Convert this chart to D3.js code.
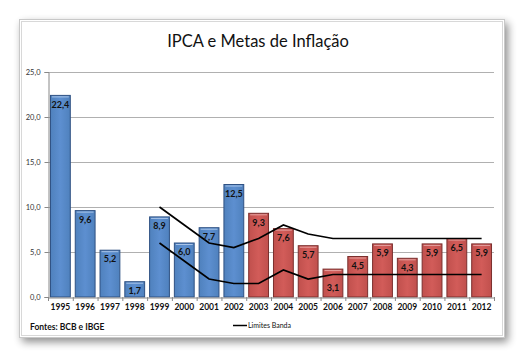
<!DOCTYPE html>
<html><head><meta charset="utf-8">
<script src="https://cdn.jsdelivr.net/npm/d3@7"></script>
<style>html,body{margin:0;padding:0;background:#fff;}svg{display:block;}</style>
</head><body>
<svg id="c" width="525" height="358"></svg>
<script>
const years = ["1995","1996","1997","1998","1999","2000","2001","2002","2003","2004","2005","2006","2007","2008","2009","2010","2011","2012"];
const ipca = [22.4,9.6,5.2,1.7,8.9,6.0,7.7,12.5,9.3,7.6,5.7,3.1,4.5,5.9,4.3,5.9,6.5,5.9];
const bandYears = ["1999","2000","2001","2002","2003","2004","2005","2006","2007","2008","2009","2010","2011","2012"];
const bandUpper = [10,8,6,5.5,6.5,8,7,6.5,6.5,6.5,6.5,6.5,6.5,6.5];
const bandLower = [6,4,2,1.5,1.5,3,2,2.5,2.5,2.5,2.5,2.5,2.5,2.5];
const yTicks = [0,5,10,15,20,25];
const blueYears = ["1995","1996","1997","1998","1999","2000","2001","2002"];
const title = "IPCA e Metas de Inflação";
const source = "Fontes: BCB e IBGE";
const legendLabel = "Limites Banda";

const FONT = "Lato, 'Open Sans', sans-serif";
const svg = d3.select("#c");
const defs = svg.append("defs");
const f = defs.append("filter").attr("id","sh").attr("x","-10%").attr("y","-10%").attr("width","125%").attr("height","125%");
f.append("feGaussianBlur").attr("in","SourceAlpha").attr("stdDeviation",4);
f.append("feOffset").attr("dx",3).attr("dy",4).attr("result","b");
f.append("feComponentTransfer").append("feFuncA").attr("type","linear").attr("slope",0.45);
const m = f.append("feMerge"); m.append("feMergeNode"); m.append("feMergeNode").attr("in","SourceGraphic");

function grad(id, light, mid){
  const g = defs.append("linearGradient").attr("id",id).attr("x1","0").attr("x2","1").attr("y1","0").attr("y2","0");
  g.append("stop").attr("offset","0%").attr("stop-color",mid);
  g.append("stop").attr("offset","50%").attr("stop-color",light);
  g.append("stop").attr("offset","100%").attr("stop-color",mid);
}
grad("gb","#5d8fd0","#4f81bd");
grad("gr","#d25c59","#c0504d");

// frame
svg.append("rect").attr("x",19.5).attr("y",19.5).attr("width",485).attr("height",318)
  .attr("fill","#fff").attr("stroke","#c8c8c8").attr("stroke-width",1).attr("filter","url(#sh)");
svg.append("rect").attr("x",21.5).attr("y",21.5).attr("width",481).attr("height",314)
  .attr("fill","none").attr("stroke","#d8d8d8").attr("stroke-width",1);

const L=48, R=494, T=72, B=297;
const x = d3.scaleBand().domain(years).range([L,R]).paddingInner(0.2).paddingOuter(0.1);
const xc = d3.scaleBand().domain(years).range([L,R]);
const y = d3.scaleLinear().domain([0,25]).range([B,T]);

svg.append("text").attr("x",258).attr("y",47).attr("text-anchor","middle")
  .attr("font-family",FONT).attr("font-size",16.5).attr("fill","#111").text(title);

// gridlines
svg.append("g").selectAll("line").data(yTicks.filter(d=>d>0)).join("line")
  .attr("x1",L).attr("x2",R).attr("y1",d=>Math.round(y(d))+0.5).attr("y2",d=>Math.round(y(d))+0.5)
  .attr("stroke","#b0b0b0").attr("stroke-width",1);

// y axis
const ya = svg.append("g").attr("transform",`translate(${L+0.5},0)`)
  .call(d3.axisLeft(y).tickValues(yTicks).tickSize(4).tickFormat(d=>d3.format(".1f")(d).replace(".",",")));
ya.select(".domain").attr("stroke","#888");
ya.selectAll(".tick line").attr("stroke","#888");
ya.selectAll("text").attr("font-family",FONT).attr("font-size",7.5).attr("fill","#333").attr("dx",-1);

// bars
svg.append("g").selectAll("rect").data(years).join("rect")
  .attr("x",d=>x(d)).attr("width",x.bandwidth())
  .attr("y",(d,i)=>y(ipca[i])).attr("height",(d,i)=>B-y(ipca[i]))
  .attr("fill",d=>blueYears.includes(d)?"url(#gb)":"url(#gr)")
  .attr("stroke",d=>blueYears.includes(d)?"#2f5183":"#7a2f2d").attr("stroke-width",1);
svg.append("g").selectAll("line").data(years).join("line")
  .attr("x1",d=>x(d)+1.5).attr("x2",d=>x(d)+x.bandwidth()-1.5)
  .attr("y1",(d,i)=>y(ipca[i])+1.5).attr("y2",(d,i)=>y(ipca[i])+1.5)
  .attr("stroke",d=>blueYears.includes(d)?"#a9c4e8":"#e6a3a1").attr("stroke-width",1);

// x axis
const xa = svg.append("g").attr("transform",`translate(0,${B+0.5})`)
  .call(d3.axisBottom(xc).tickSize(0));
xa.select(".domain").attr("stroke","#888");
xa.selectAll("text").attr("font-family",FONT).attr("font-weight","bold")
  .attr("font-size",8.5).attr("fill","#111").attr("dy","0.95em").attr("y",4);
svg.append("g").selectAll("line").data(years.concat(["end"])).join("line")
  .attr("x1",(d,i)=>L+i*xc.step()+0.5).attr("x2",(d,i)=>L+i*xc.step()+0.5)
  .attr("y1",B).attr("y2",B+4).attr("stroke","#888");

// band lines
const line = d3.line().x(d=>xc(d[0])+xc.bandwidth()/2).y(d=>y(d[1]));
[bandUpper,bandLower].forEach(arr=>{
  svg.append("path").datum(bandYears.map((yr,i)=>[yr,arr[i]])).attr("d",line)
    .attr("fill","none").attr("stroke","#000").attr("stroke-width",1.7);
});

// labels
svg.append("g").selectAll("text").data(years).join("text")
  .attr("x",d=>x(d)+x.bandwidth()/2)
  .attr("y",(d,i)=>{
    let ly = y(ipca[i])+9;
    const k = bandYears.indexOf(d);
    if(k>=0){
      [bandUpper[k],bandLower[k]].forEach(v=>{ if(Math.abs(ly-y(v))<4.5) ly = y(v)+13; });
    }
    return ly+3.2;
  })
  .attr("text-anchor","middle").attr("font-family",FONT).attr("font-weight","bold")
  .attr("font-size",9).attr("fill","#111")
  .text((d,i)=>d3.format(".1f")(ipca[i]).replace(".",","));

// footer
svg.append("text").attr("x",30).attr("y",330).attr("font-family",FONT)
  .attr("font-weight","bold").attr("font-size",8.5).attr("fill","#111").text(source);
svg.append("line").attr("x1",233).attr("x2",247).attr("y1",325.5).attr("y2",325.5).attr("stroke","#000").attr("stroke-width",1.5);
svg.append("text").attr("x",248).attr("y",328).attr("font-family",FONT)
  .attr("font-size",7).attr("fill","#111").text(legendLabel);
</script>
</body></html>
